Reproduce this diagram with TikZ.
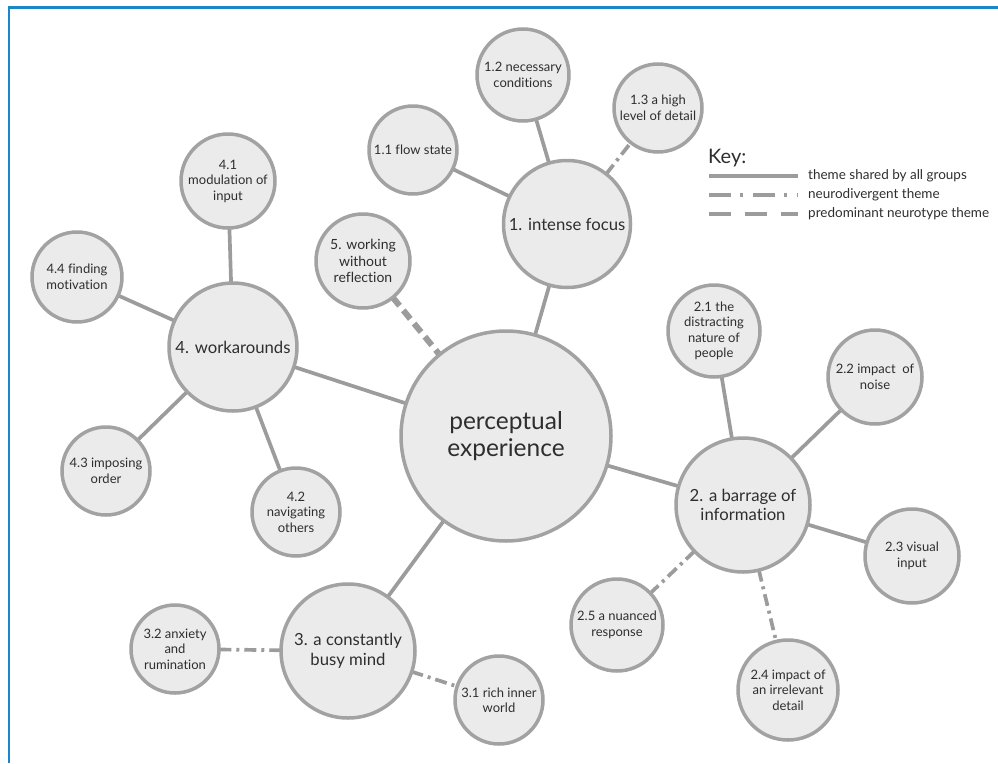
\documentclass[tikz,border=0pt]{standalone}
\usepackage{fontspec}
\setmainfont{Lato}[Ligatures=CommonOff]
\usetikzlibrary{backgrounds}
\definecolor{framecol}{HTML}{1B87C9}
\definecolor{circfill}{HTML}{EBEBEB}
\definecolor{circdraw}{HTML}{A2A2A2}
\definecolor{edgecol}{HTML}{9C9C9C}
\definecolor{txt}{HTML}{2E2E2E}
\tikzset{
  bub/.style={circle, draw=circdraw, fill=circfill, line width=3.5pt, inner sep=0pt, align=center, text=txt, minimum size=#1},
  fsmall/.style={font=\fontsize{13}{15.5}\selectfont},
  fmid/.style={font=\fontsize{16.7}{19.5}\selectfont},
  fbig/.style={font=\fontsize{24.5}{27.5}\selectfont},
  conn/.style={draw=edgecol, line width=3.7pt, shorten <=-2pt, shorten >=-2pt},
  shared/.style={conn},
  neuro/.style={conn, dash pattern=on 12pt off 5pt on 3pt off 5pt},
  typ/.style={conn, line width=6pt, dash pattern=on 11pt off 6pt},
  keytxt/.style={anchor=west, text=txt, font=\fontsize{13.5}{16}\selectfont, inner sep=0pt}
}
\begin{document}
\begin{tikzpicture}[x=1pt,y=-1pt]
\useasboundingbox (0,0) rectangle (998,763);
\draw[framecol, line width=2.5pt] (9,763) -- (9,7.5) -- (998,7.5);

% nodes
\node[bub=210pt, fbig] (P) at (506,436) {perceptual\\experience};
\node[bub=127pt, fmid] (n1) at (567,224) {1. intense focus};
\node[bub=88pt, fsmall] (n11) at (413,150) {1.1 flow state};
\node[bub=92pt, fsmall] (n12) at (523,75) {1.2 necessary\\conditions};
\node[bub=88pt, fsmall] (n13) at (658,108) {1.3 a high\\level of detail};
\node[bub=134pt, fmid] (n2) at (743,505) {2. a barrage of\\information};
\node[bub=92pt, fsmall] (n21) at (714,331) {2.1 the\\distracting\\nature of\\people};
\node[bub=94pt, fsmall] (n22) at (875,377) {2.2 impact\ \ of\\noise};
\node[bub=94pt, fsmall] (n23) at (912,556) {2.3 visual\\input};
\node[bub=100pt, fsmall] (n24) at (788,690) {2.4 impact of\\an irrelevant\\detail};
\node[bub=92pt, fsmall] (n25) at (617,625) {2.5 a nuanced\\response};
\node[bub=134pt, fmid] (n3) at (348,651) {3. a constantly\\busy mind};
\node[bub=88pt, fsmall] (n31) at (499,700) {3.1 rich inner\\world};
\node[bub=88pt, fsmall] (n32) at (175,649) {3.2 anxiety\\and\\rumination};
\node[bub=128pt, fmid] (n4) at (233,347) {4. workarounds};
\node[bub=94pt, fsmall] (n41) at (228,181) {4.1\\modulation of\\input};
\node[bub=88pt, fsmall] (n42) at (296,512) {4.2\\navigating\\others};
\node[bub=88pt, fsmall] (n43) at (106,471) {4.3 imposing\\order};
\node[bub=90pt, fsmall] (n44) at (77,277) {4.4 finding\\motivation};
\node[bub=94pt, font=\fontsize{14}{16.5}\selectfont] (n5) at (363,261) {5. working\\without\\reflection};

% connectors
\begin{scope}[on background layer]
\draw[shared] (P) -- (n1);
\draw[shared] (P) -- (n2);
\draw[shared] (P) -- (n3);
\draw[shared] (P) -- (n4);
\draw[typ] (n5) -- (P);
\draw[shared] (n1) -- (n11);
\draw[shared] (n1) -- (n12);
\draw[neuro] (n1) -- (n13);
\draw[shared] (n2) -- (n21);
\draw[shared] (n2) -- (n22);
\draw[shared] (n2) -- (n23);
\draw[neuro] (n2) -- (n24);
\draw[neuro] (n2) -- (n25);
\draw[neuro] (n3) -- (n31);
\draw[neuro] (n3) -- (n32);
\draw[shared] (n4) -- (n41);
\draw[shared] (n4) -- (n42);
\draw[shared] (n4) -- (n43);
\draw[shared] (n4) -- (n44);
\end{scope}

% key
\node[anchor=west, text=txt, font=\fontsize{20}{24}\selectfont, inner sep=0pt] (key) at (708,158) {Key:};
\coordinate (k1a) at (709,176); \coordinate (k1b) at (798,176);
\coordinate (k2a) at (709,195); \coordinate (k2b) at (798,195);
\coordinate (k3a) at (709,214); \coordinate (k3b) at (798,214);
\draw[draw=edgecol, line width=3.5pt] (k1a) -- (k1b);
\draw[draw=edgecol, line width=3.5pt, dash pattern=on 22pt off 9pt on 3pt off 10pt] (k2a) -- (k2b);
\draw[draw=edgecol, line width=3.5pt, dash pattern=on 22pt off 14pt] (k3a) -- (k3b);
\node[keytxt] (kt1) at (808,176) {theme shared by all groups};
\node[keytxt] (kt2) at (808,195) {neurodivergent theme};
\node[keytxt] (kt3) at (808,214) {predominant neurotype theme};
\end{tikzpicture}
\end{document}
